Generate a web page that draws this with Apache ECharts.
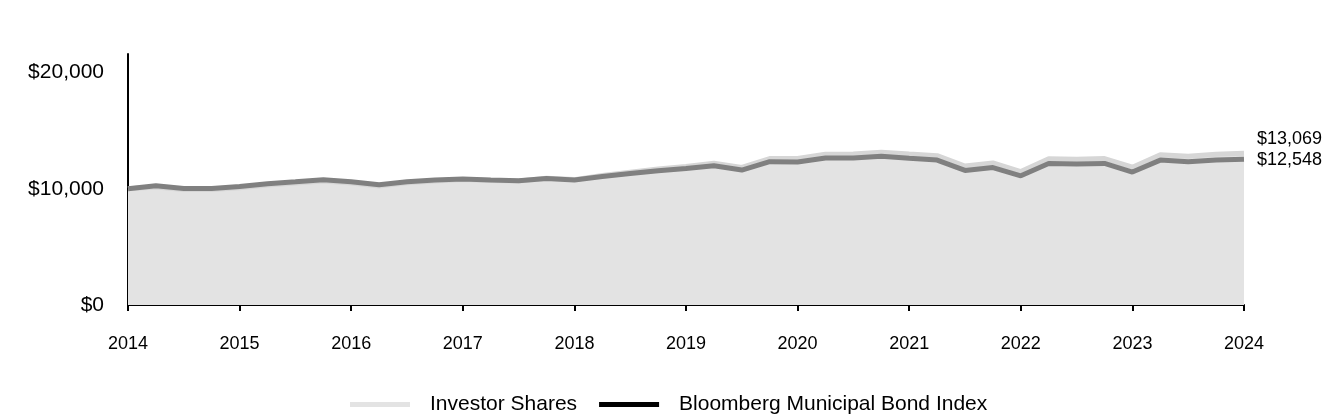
<!DOCTYPE html>
<html>
<head>
<meta charset="utf-8">
<script src="https://cdn.jsdelivr.net/npm/echarts@6/dist/echarts.min.js"></script>
<style>
html,body{margin:0;padding:0;background:#fff;}
#chart{width:1344px;height:420px;}
</style>
</head>
<body>
<div id="chart"></div>
<script>
const quarters = [
  '2014-Q1','2014-Q2','2014-Q3','2014-Q4',
  '2015-Q1','2015-Q2','2015-Q3','2015-Q4',
  '2016-Q1','2016-Q2','2016-Q3','2016-Q4',
  '2017-Q1','2017-Q2','2017-Q3','2017-Q4',
  '2018-Q1','2018-Q2','2018-Q3','2018-Q4',
  '2019-Q1','2019-Q2','2019-Q3','2019-Q4',
  '2020-Q1','2020-Q2','2020-Q3','2020-Q4',
  '2021-Q1','2021-Q2','2021-Q3','2021-Q4',
  '2022-Q1','2022-Q2','2022-Q3','2022-Q4',
  '2023-Q1','2023-Q2','2023-Q3','2023-Q4',
  '2024-Q1'
];
const investorShares = [
  10000, 10150, 9930, 9930, 10090, 10320, 10490, 10680,
  10500, 10250, 10510, 10680, 10790, 10720, 10680, 10900,
  10790, 11140, 11430, 11700, 11910, 12200, 11840, 12600,
  12600, 12980, 12990, 13150, 12990, 12850, 11960, 12220,
  11480, 12580, 12540, 12600, 11860, 12930, 12800, 12980,
  13069
];
const bloombergIndex = [
  10000, 10260, 10030, 10030, 10200, 10430, 10600, 10780,
  10600, 10340, 10600, 10750, 10840, 10750, 10690, 10890,
  10750, 11060, 11320, 11550, 11740, 11980, 11610, 12330,
  12300, 12650, 12650, 12800, 12620, 12470, 11580, 11830,
  11120, 12180, 12130, 12180, 11440, 12470, 12330, 12470,
  12548
];
const seriesNames = ['Investor Shares', 'Bloomberg Municipal Bond Index'];
const yTicks = [0, 10000, 20000];

const FONT = "'Liberation Sans', Arial, sans-serif";
function money(v){ return '$' + Math.round(v).toLocaleString('en-US'); }

const chart = echarts.init(document.getElementById('chart'), null, {renderer:'canvas'});
chart.setOption({
  animation: false,
  textStyle: {fontFamily: FONT},
  grid: {left: 128, right: 100, top: 54, bottom: 115, containLabel: false},
  legend: {
    bottom: 0,
    left: 345,
    icon: 'rect',
    itemWidth: 60,
    itemHeight: 5,
    itemGap: 22,
    textStyle: {fontFamily: FONT, fontSize: 21, color: '#000', padding: [0,0,0,15]},
    data: [
      {name: seriesNames[0], itemStyle: {color: '#e3e3e3'}},
      {name: seriesNames[1], itemStyle: {color: '#000000'}}
    ]
  },
  xAxis: {
    type: 'category',
    data: quarters,
    boundaryGap: false,
    axisLine: {show: true, lineStyle: {color: '#000', width: 2}},
    axisTick: {show: true, interval: 3, length: 6, lineStyle: {color: '#000', width: 2}},
    axisLabel: {
      interval: 3,
      margin: 30,
      fontSize: 18,
      color: '#000',
      fontFamily: FONT,
      formatter: v => v.slice(0, 4)
    },
    splitLine: {show: false}
  },
  yAxis: {
    type: 'value',
    min: yTicks[0],
    max: 21600,
    interval: yTicks[1] - yTicks[0],
    axisLine: {show: true, lineStyle: {color: '#000', width: 2}},
    axisTick: {show: false},
    splitLine: {show: false},
    axisLabel: {
      showMaxLabel: false,
      margin: 24,
      fontSize: 21,
      color: '#000',
      fontFamily: FONT,
      formatter: v => yTicks.indexOf(v) >= 0 ? money(v) : ''
    }
  },
  series: [
    {
      name: seriesNames[0],
      type: 'line',
      data: investorShares,
      symbol: 'none',
      z: 2,
      lineStyle: {color: '#d6d6d6', width: 5},
      itemStyle: {color: '#e3e3e3'},
      areaStyle: {color: '#e3e3e3', opacity: 1},
      endLabel: {
        show: true,
        formatter: p => money(p.value),
        color: '#000',
        fontSize: 18,
        fontFamily: FONT,
        distance: 13,
        offset: [0, -14]
      }
    },
    {
      name: seriesNames[1],
      type: 'line',
      data: bloombergIndex,
      symbol: 'none',
      z: 3,
      lineStyle: {color: '#808080', width: 5},
      itemStyle: {color: '#000'},
      endLabel: {
        show: true,
        formatter: p => money(p.value),
        color: '#000',
        fontSize: 18,
        fontFamily: FONT,
        distance: 13,
        offset: [0, 1]
      }
    }
  ]
});
</script>
</body>
</html>
